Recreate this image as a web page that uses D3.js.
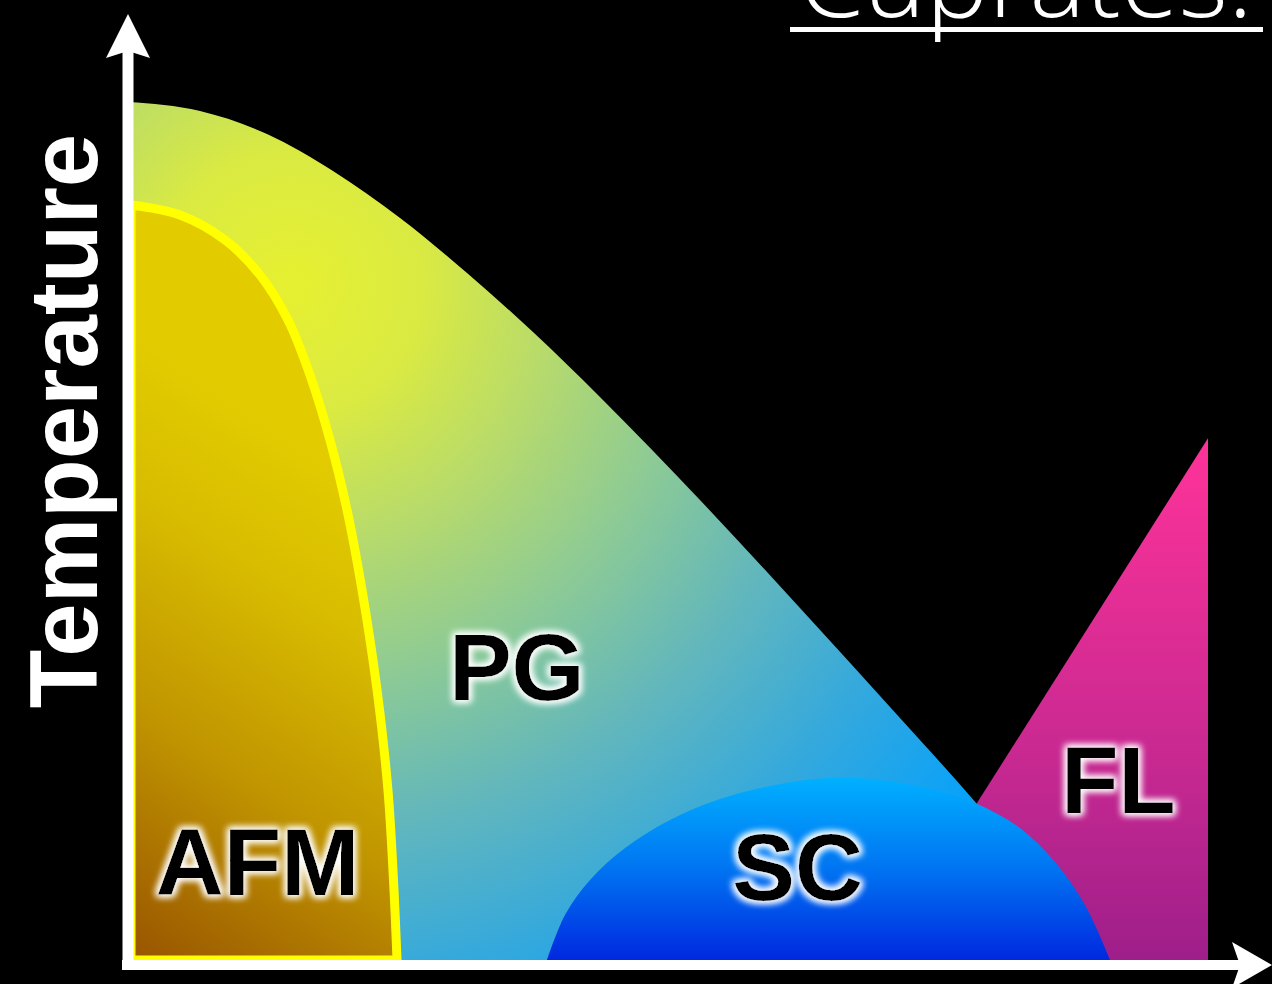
<!DOCTYPE html>
<html>
<head>
<meta charset="utf-8">
<script src="https://cdn.jsdelivr.net/npm/d3@7"></script>
<style>
  html, body { margin: 0; padding: 0; background: #000; }
  svg { display: block; }
</style>
</head>
<body>
<div id="chart"></div>
<script>
// ---------- data (normalised doping x, normalised temperature T) ----------
const titleText = "Cuprates:";
const axisLabelY = "Temperature";

const pgDoping = [0.000, 0.0667, 0.1287, 0.1898, 0.2519, 0.3139, 0.3750, 0.4370, 0.5296, 0.6222, 0.7148, 0.7861, 0.8444, 0.8907];
const pgTemp   = [1.000, 0.9895, 0.9627, 0.9196, 0.8648, 0.8007, 0.7319, 0.6562, 0.5361, 0.4103, 0.2821, 0.1818, 0.0932, 0.0000];

const afmDoping = [0.0028, 0.0481, 0.0898, 0.1222, 0.1481, 0.1685, 0.1870, 0.2028, 0.2167, 0.2306, 0.2407, 0.2463, 0.2491];
const afmTemp   = [0.8800, 0.8683, 0.8392, 0.7984, 0.7459, 0.6818, 0.6061, 0.5245, 0.4312, 0.3147, 0.1981, 0.0816, 0.0000];

const scDoping = [0.3880, 0.4046, 0.4278, 0.4602, 0.5019, 0.5481, 0.5991, 0.6500, 0.6963, 0.7426, 0.7843, 0.8259, 0.8583, 0.8861, 0.9093];
const scTemp   = [0.0000, 0.0524, 0.0932, 0.1305, 0.1632, 0.1876, 0.2040, 0.2121, 0.2098, 0.1993, 0.1830, 0.1538, 0.1142, 0.0641, 0.0000];

const flDoping = [0.694, 1.000, 1.000];
const flTemp   = [0.000, 0.608, 0.000];

const phaseLabels = ["AFM", "PG", "SC", "FL"];
const labelDoping = [0.120, 0.360, 0.620, 0.917];
const labelTemp   = [0.076, 0.303, 0.070, 0.171];

// ---------- layout ----------
const W = 1272, H = 984;
const x = d3.scaleLinear().domain([0, 1]).range([128, 1208]);
const y = d3.scaleLinear().domain([0, 1]).range([960, 102]);

const svg = d3.select("#chart").append("svg")
  .attr("width", W).attr("height", H)
  .style("background", "#000");

svg.append("rect").attr("width", W).attr("height", H).attr("fill", "#000");

const defs = svg.append("defs");

// PG radial gradient
const pgGrad = defs.append("radialGradient").attr("id", "pgGrad")
  .attr("gradientUnits", "userSpaceOnUse")
  .attr("cx", 290).attr("cy", 285).attr("r", 880);
[[0, "#e6f030"], [0.15, "#daea42"], [0.3, "#b6da6c"], [0.46, "#8cca96"],
 [0.63, "#60b6be"], [0.8, "#32a8de"], [1, "#00a0ff"]]
  .forEach(([o, c]) => pgGrad.append("stop").attr("offset", o).attr("stop-color", c));

// AFM linear gradient
const afmGrad = defs.append("linearGradient").attr("id", "afmGrad")
  .attr("gradientUnits", "userSpaceOnUse")
  .attr("x1", 130).attr("y1", 960).attr("x2", 420).attr("y2", 520);
[[0, "#985400"], [0.4, "#c09400"], [0.75, "#d8bc00"], [1, "#e2cc00"]]
  .forEach(([o, c]) => afmGrad.append("stop").attr("offset", o).attr("stop-color", c));

// SC vertical gradient
const scGrad = defs.append("linearGradient").attr("id", "scGrad")
  .attr("gradientUnits", "userSpaceOnUse")
  .attr("x1", 0).attr("y1", 778).attr("x2", 0).attr("y2", 960);
[[0, "#00b0ff"], [0.5, "#0074f2"], [1, "#0028e0"]]
  .forEach(([o, c]) => scGrad.append("stop").attr("offset", o).attr("stop-color", c));

// FL vertical gradient
const flGrad = defs.append("linearGradient").attr("id", "flGrad")
  .attr("gradientUnits", "userSpaceOnUse")
  .attr("x1", 0).attr("y1", 438).attr("x2", 0).attr("y2", 960);
[[0, "#ff3399"], [0.65, "#c42890"], [1, "#9e1e8a"]]
  .forEach(([o, c]) => flGrad.append("stop").attr("offset", o).attr("stop-color", c));

// glow filter for labels
const glow = defs.append("filter").attr("id", "glow")
  .attr("x", "-30%").attr("y", "-30%").attr("width", "160%").attr("height", "160%");
glow.append("feMorphology").attr("in", "SourceAlpha").attr("operator", "dilate").attr("radius", 1.5).attr("result", "d");
glow.append("feGaussianBlur").attr("in", "d").attr("stdDeviation", 3.5).attr("result", "b");
glow.append("feFlood").attr("flood-color", "#ffffff").attr("flood-opacity", 0.9).attr("result", "f");
glow.append("feComposite").attr("in", "f").attr("in2", "b").attr("operator", "in").attr("result", "g");
const gm = glow.append("feMerge");
gm.append("feMergeNode").attr("in", "g");
gm.append("feMergeNode").attr("in", "g");
gm.append("feMergeNode").attr("in", "SourceGraphic");

const zip = (a, b) => a.map((v, i) => [v, b[i]]);

// ---------- PG ----------
const pgArea = d3.area()
  .x(d => x(d[0])).y0(y(0)).y1(d => y(d[1]))
  .curve(d3.curveMonotoneX);
svg.append("path").datum(zip(pgDoping, pgTemp))
  .attr("d", pgArea).attr("fill", "url(#pgGrad)");

// ---------- FL ----------
svg.append("path")
  .attr("d", d3.line().x(d => x(d[0])).y(d => y(d[1]))(zip(flDoping, flTemp)) + "Z")
  .attr("fill", "url(#flGrad)");

// ---------- SC ----------
const scArea = d3.area()
  .x(d => x(d[0])).y0(y(0)).y1(d => y(d[1]))
  .curve(d3.curveCatmullRom.alpha(0.5));
svg.append("path").datum(zip(scDoping, scTemp))
  .attr("d", scArea).attr("fill", "url(#scGrad)");

// ---------- AFM ----------
const afmArea = d3.area()
  .y(d => y(d[1])).x0(x(0) + 3).x1(d => x(d[0]))
  .curve(d3.curveCatmullRom.alpha(0.5));
svg.append("path").datum(zip(afmDoping, afmTemp))
  .attr("d", afmArea)
  .attr("fill", "url(#afmGrad)")
  .attr("stroke", "#ffff00").attr("stroke-width", 9).attr("stroke-linejoin", "round");

// ---------- phase labels ----------
svg.append("g").selectAll("text").data(phaseLabels).join("text")
  .attr("x", (d, i) => x(labelDoping[i]))
  .attr("y", (d, i) => y(labelTemp[i]))
  .attr("text-anchor", "middle")
  .attr("font-family", "'Liberation Sans', Arial, Helvetica, sans-serif")
  .attr("font-weight", "bold")
  .attr("font-size", 94)
  .attr("fill", "#000")
  .attr("filter", "url(#glow)")
  .text(d => d);

// ---------- axes ----------
const axisG = svg.append("g").attr("fill", "#fff").attr("stroke", "none");
const ax0 = x(0), ay0 = y(0) + 5;
axisG.append("rect").attr("x", ax0 - 5.5).attr("y", 48).attr("width", 11).attr("height", ay0 + 5 - 48);
axisG.append("path").attr("d", `M${ax0},14 L${ax0 + 22},58 L${ax0},51 L${ax0 - 22},58 Z`);
axisG.append("rect").attr("x", ax0 - 6).attr("y", ay0 - 5).attr("width", 1244 - (ax0 - 6)).attr("height", 10);
axisG.append("path").attr("d", `M${W},${ay0} L${1232},${ay0 - 23} L${1240},${ay0} L${1232},${ay0 + 23} Z`);

// ---------- Y axis label ----------
svg.append("text")
  .attr("transform", `translate(97, 421) rotate(-90)`)
  .attr("text-anchor", "middle")
  .attr("font-family", "'Liberation Sans', Arial, Helvetica, sans-serif")
  .attr("font-weight", "bold")
  .attr("font-size", 96)
  .attr("fill", "#fff")
  .text(axisLabelY);

// ---------- title (cut off at top, as in the original slide) ----------
const title = svg.append("text")
  .attr("x", 1253).attr("y", 17)
  .attr("text-anchor", "end")
  .attr("font-family", "'Open Sans', Lato, 'Liberation Sans', sans-serif")
  .attr("font-weight", 300)
  .attr("font-size", 100)
  .attr("fill", "#fff")
  .text(titleText);
const tw = title.node().getComputedTextLength();
title.attr("font-size", 100 * 455 / tw);
svg.append("rect").attr("x", 790).attr("y", 27).attr("width", 473).attr("height", 5).attr("fill", "#fff");
</script>
</body>
</html>
